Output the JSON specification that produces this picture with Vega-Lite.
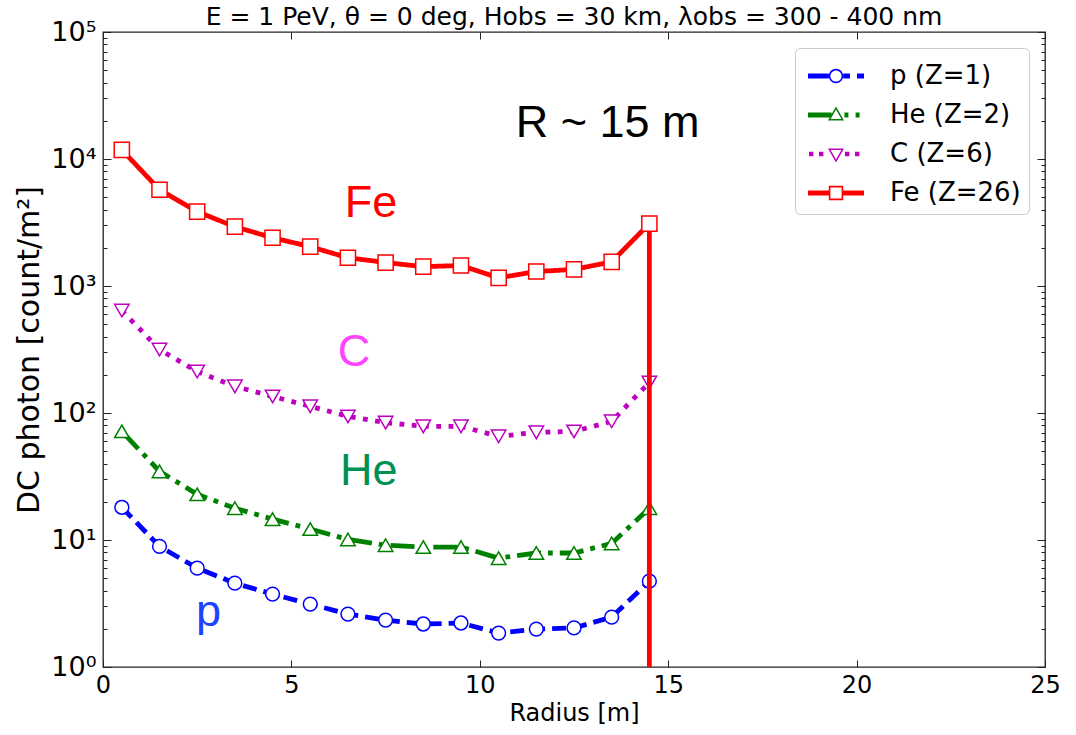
{
  "$schema": "https://vega.github.io/schema/vega-lite/v6.json",
  "autosize": {"type": "none"},
  "padding": {"left": 103, "top": 32, "right": 31, "bottom": 68},
  "width": 942,
  "height": 635,
  "background": "white",
  "title": {"text": "E = 1 PeV, θ = 0 deg, Hobs = 30 km, λobs = 300 - 400 nm"},
  "datasets": {
    "main": [
      {"species": "p (Z=1)", "r": 0.5, "v": 18.1}, {"species": "p (Z=1)", "r": 1.5, "v": 8.9}, {"species": "p (Z=1)", "r": 2.5, "v": 6.0}, {"species": "p (Z=1)", "r": 3.5, "v": 4.57}, {"species": "p (Z=1)", "r": 4.5, "v": 3.75}, {"species": "p (Z=1)", "r": 5.5, "v": 3.13}, {"species": "p (Z=1)", "r": 6.5, "v": 2.61}, {"species": "p (Z=1)", "r": 7.5, "v": 2.34}, {"species": "p (Z=1)", "r": 8.5, "v": 2.18}, {"species": "p (Z=1)", "r": 9.5, "v": 2.22}, {"species": "p (Z=1)", "r": 10.5, "v": 1.85}, {"species": "p (Z=1)", "r": 11.5, "v": 1.99}, {"species": "p (Z=1)", "r": 12.5, "v": 2.03}, {"species": "p (Z=1)", "r": 13.5, "v": 2.47}, {"species": "p (Z=1)", "r": 14.5, "v": 4.74},
      {"species": "He (Z=2)", "r": 0.5, "v": 71.7}, {"species": "He (Z=2)", "r": 1.5, "v": 34.7}, {"species": "He (Z=2)", "r": 2.5, "v": 22.9}, {"species": "He (Z=2)", "r": 3.5, "v": 17.8}, {"species": "He (Z=2)", "r": 4.5, "v": 14.6}, {"species": "He (Z=2)", "r": 5.5, "v": 12.2}, {"species": "He (Z=2)", "r": 6.5, "v": 10.1}, {"species": "He (Z=2)", "r": 7.5, "v": 9.1}, {"species": "He (Z=2)", "r": 8.5, "v": 8.8}, {"species": "He (Z=2)", "r": 9.5, "v": 8.8}, {"species": "He (Z=2)", "r": 10.5, "v": 7.2}, {"species": "He (Z=2)", "r": 11.5, "v": 7.9}, {"species": "He (Z=2)", "r": 12.5, "v": 7.9}, {"species": "He (Z=2)", "r": 13.5, "v": 9.4}, {"species": "He (Z=2)", "r": 14.5, "v": 17.8},
      {"species": "C (Z=6)", "r": 0.5, "v": 641}, {"species": "C (Z=6)", "r": 1.5, "v": 316}, {"species": "C (Z=6)", "r": 2.5, "v": 212}, {"species": "C (Z=6)", "r": 3.5, "v": 162}, {"species": "C (Z=6)", "r": 4.5, "v": 135}, {"species": "C (Z=6)", "r": 5.5, "v": 113}, {"species": "C (Z=6)", "r": 6.5, "v": 94}, {"species": "C (Z=6)", "r": 7.5, "v": 84}, {"species": "C (Z=6)", "r": 8.5, "v": 78.5}, {"species": "C (Z=6)", "r": 9.5, "v": 78.5}, {"species": "C (Z=6)", "r": 10.5, "v": 65.5}, {"species": "C (Z=6)", "r": 11.5, "v": 70.4}, {"species": "C (Z=6)", "r": 12.5, "v": 71.6}, {"species": "C (Z=6)", "r": 13.5, "v": 86}, {"species": "C (Z=6)", "r": 14.5, "v": 174},
      {"species": "Fe (Z=26)", "r": 0.5, "v": 11800}, {"species": "Fe (Z=26)", "r": 1.5, "v": 5730}, {"species": "Fe (Z=26)", "r": 2.5, "v": 3850}, {"species": "Fe (Z=26)", "r": 3.5, "v": 2930}, {"species": "Fe (Z=26)", "r": 4.5, "v": 2400}, {"species": "Fe (Z=26)", "r": 5.5, "v": 2040}, {"species": "Fe (Z=26)", "r": 6.5, "v": 1670}, {"species": "Fe (Z=26)", "r": 7.5, "v": 1530}, {"species": "Fe (Z=26)", "r": 8.5, "v": 1420}, {"species": "Fe (Z=26)", "r": 9.5, "v": 1450}, {"species": "Fe (Z=26)", "r": 10.5, "v": 1160}, {"species": "Fe (Z=26)", "r": 11.5, "v": 1300}, {"species": "Fe (Z=26)", "r": 12.5, "v": 1350}, {"species": "Fe (Z=26)", "r": 13.5, "v": 1550}, {"species": "Fe (Z=26)", "r": 14.5, "v": 3100}
    ],
    "drop": [{"r": 14.5, "lo": 1, "hi": 3100}],
    "notes": [
      {"label": "R ~ 15 m", "r": 13.39, "v": 14900},
      {"label": "Fe", "r": 7.11, "v": 3490},
      {"label": "C", "r": 6.66, "v": 234},
      {"label": "He", "r": 7.05, "v": 27.1},
      {"label": "p", "r": 2.8, "v": 2.12}
    ]
  },
  "resolve": {"axis": {"x": "independent", "y": "independent"}},
  "layer": [
    {
      "data": {"name": "main"},
      "mark": {"type": "line", "strokeWidth": 4.8},
      "encoding": {
        "x": {"field": "r", "type": "quantitative", "scale": {"domain": [0, 25], "nice": false, "zero": false},
          "axis": {"orient": "bottom", "values": [0, 5, 10, 15, 20, 25], "tickSize": -7, "labelPadding": 13, "labelFontSize": 24, "format": "d", "labelFlush": false, "labelOverlap": false, "title": "Radius [m]", "titleFontSize": 24, "titlePadding": 4}},
        "y": {"field": "v", "type": "quantitative", "scale": {"type": "log", "domain": [1, 100000], "nice": false},
          "axis": {"orient": "left", "values": [1, 10, 100, 1000, 10000, 100000], "tickSize": -8, "labelPadding": 15, "labelFontSize": 27, "labelOverlap": false,
            "labelExpr": "datum.value == 1 ? '10⁰' : datum.value == 10 ? '10¹' : datum.value == 100 ? '10²' : datum.value == 1000 ? '10³' : datum.value == 10000 ? '10⁴' : '10⁵'",
            "title": "DC photon [count/m²]", "titleFontSize": 30, "titlePadding": 6}},
        "stroke": {"field": "species", "type": "nominal", "scale": {"domain": ["Fe (Z=26)", "C (Z=6)", "He (Z=2)", "p (Z=1)"], "range": ["#ff0000", "#bf00bf", "#008000", "#0000ff"]}, "legend": null},
        "strokeDash": {"field": "species", "type": "nominal", "scale": {"domain": ["He (Z=2)", "p (Z=1)", "Fe (Z=26)", "C (Z=6)"], "range": [[24, 7, 4.8, 7], [14, 7], [1, 0], [4.8, 7.5]]}, "legend": null}
      }
    },
    {
      "data": {"name": "main"},
      "transform": [{"filter": "datum.species == 'p (Z=1)'"}],
      "mark": {"type": "point", "shape": "circle", "filled": true, "fill": "white", "stroke": "#0000ff", "strokeWidth": 1.5, "size": 190, "opacity": 1},
      "encoding": {
        "x": {"field": "r", "type": "quantitative", "axis": {"orient": "top", "values": [0, 5, 10, 15, 20, 25], "tickSize": -7, "labels": false, "title": null}},
        "y": {"field": "v", "type": "quantitative", "axis": {"orient": "left", "values": [2,3,4,5,6,7,8,9,20,30,40,50,60,70,80,90,200,300,400,500,600,700,800,900,2000,3000,4000,5000,6000,7000,8000,9000,20000,30000,40000,50000,60000,70000,80000,90000], "tickSize": -4, "labels": false, "title": null}}
      }
    },
    {
      "data": {"name": "main"},
      "transform": [{"filter": "datum.species == 'He (Z=2)'"}],
      "mark": {"type": "point", "shape": "triangle-up", "filled": true, "fill": "white", "stroke": "#008000", "strokeWidth": 1.5, "size": 210, "opacity": 1},
      "encoding": {
        "x": {"field": "r", "type": "quantitative", "axis": null},
        "y": {"field": "v", "type": "quantitative", "axis": {"orient": "right", "values": [1, 10, 100, 1000, 10000, 100000], "tickSize": -8, "labels": false, "title": null}}
      }
    },
    {
      "data": {"name": "main"},
      "transform": [{"filter": "datum.species == 'C (Z=6)'"}],
      "mark": {"type": "point", "shape": "triangle-down", "filled": true, "fill": "white", "stroke": "#bf00bf", "strokeWidth": 1.5, "size": 210, "opacity": 1},
      "encoding": {
        "x": {"field": "r", "type": "quantitative", "axis": null},
        "y": {"field": "v", "type": "quantitative", "axis": {"orient": "right", "values": [2,3,4,5,6,7,8,9,20,30,40,50,60,70,80,90,200,300,400,500,600,700,800,900,2000,3000,4000,5000,6000,7000,8000,9000,20000,30000,40000,50000,60000,70000,80000,90000], "tickSize": -4, "labels": false, "title": null}}
      }
    },
    {
      "data": {"name": "drop"},
      "mark": {"type": "rule", "color": "#ff0000", "strokeWidth": 4.8},
      "encoding": {
        "x": {"field": "r", "type": "quantitative", "axis": null},
        "y": {"field": "lo", "type": "quantitative", "axis": null},
        "y2": {"field": "hi"}
      }
    },
    {
      "data": {"name": "main"},
      "transform": [{"filter": "datum.species == 'Fe (Z=26)'"}],
      "mark": {"type": "point", "shape": "square", "filled": true, "fill": "white", "stroke": "#ff0000", "strokeWidth": 1.5, "size": 230, "opacity": 1},
      "encoding": {
        "x": {"field": "r", "type": "quantitative", "axis": null},
        "y": {"field": "v", "type": "quantitative", "axis": null}
      }
    },
    {
      "data": {"name": "main"},
      "transform": [{"filter": "datum.r > 100"}],
      "mark": {"type": "point", "filled": true, "strokeWidth": 0},
      "encoding": {
        "x": {"field": "r", "type": "quantitative", "axis": null},
        "y": {"field": "v", "type": "quantitative", "axis": null},
        "color": {"field": "species", "type": "nominal", "legend": {"title": null},
          "scale": {"domain": ["p (Z=1)", "He (Z=2)", "C (Z=6)", "Fe (Z=26)"], "range": ["#0000ff", "#008000", "#bf00bf", "#ff0000"]}},
        "shape": {"field": "species", "type": "nominal", "legend": {"title": null},
          "scale": {"domain": ["p (Z=1)", "He (Z=2)", "C (Z=6)", "Fe (Z=26)"],
            "range": [
              "M-1.4,-0.12H-0.36V0.12H-1.4Z M0.36,-0.12H0.7V0.12H0.36Z M1.05,-0.12H1.4V0.12H1.05Z M0.36,0A0.36,0.36 0 1,1 -0.36,0A0.36,0.36 0 1,1 0.36,0Z M0.28,0A0.28,0.28 0 1,0 -0.28,0A0.28,0.28 0 1,0 0.28,0Z",
              "M-1.4,-0.12H-0.22V0.12H-1.4Z M0.42,-0.12H0.62V0.12H0.42Z M0.98,-0.12H1.18V0.12H0.98Z M0,-0.42L0.4,0.28L-0.4,0.28Z M0,-0.27L-0.27,0.2L0.27,0.2Z",
              "M-1.35,-0.11H-1.13V0.11H-1.35Z M-0.85,-0.11H-0.63V0.11H-0.85Z M0.45,-0.11H0.67V0.11H0.45Z M0.95,-0.11H1.17V0.11H0.95Z M0,0.42L-0.4,-0.28L0.4,-0.28Z M0,0.27L0.27,-0.2L-0.27,-0.2Z",
              "M-1.4,-0.12H-0.36V0.12H-1.4Z M0.36,-0.12H1.4V0.12H0.36Z M-0.36,-0.36H0.36V0.36H-0.36Z M-0.28,-0.28V0.28H0.28V-0.28Z"
            ]}}
      }
    },
    {
      "data": {"name": "notes"},
      "mark": {"type": "text", "font": "Liberation Sans", "fontSize": 45, "align": "center", "baseline": "alphabetic"},
      "encoding": {
        "x": {"field": "r", "type": "quantitative", "axis": null},
        "y": {"field": "v", "type": "quantitative", "axis": null},
        "text": {"field": "label"},
        "fill": {"field": "label", "type": "nominal", "legend": null,
          "scale": {"domain": ["R ~ 15 m", "Fe", "C", "He", "p"], "range": ["#000000", "#ff0000", "#ff44ff", "#009050", "#1a44ff"]}}
      }
    }
  ],
  "config": {
    "view": {"stroke": "#222222", "strokeWidth": 1.3},
    "axis": {"domain": false, "grid": false, "tickColor": "#222222", "tickWidth": 1, "labelFont": "DejaVu Sans", "labelColor": "#000000", "titleFont": "DejaVu Sans", "titleColor": "#000000", "titleFontWeight": "normal"},
    "title": {"font": "DejaVu Sans", "fontSize": 25, "fontWeight": "normal", "color": "#000000", "offset": 5, "dy": 17, "anchor": "middle"},
    "legend": {"orient": "top-right", "offset": 16, "padding": 8, "fillColor": "white", "strokeColor": "#cccccc", "strokeWidth": 1, "cornerRadius": 5, "symbolSize": 1600, "symbolStrokeWidth": 0, "symbolOffset": 13, "symbolOpacity": 1, "labelOffset": 34, "labelFont": "DejaVu Sans", "labelFontSize": 26, "labelColor": "#000000", "rowPadding": 6}
  }
}
